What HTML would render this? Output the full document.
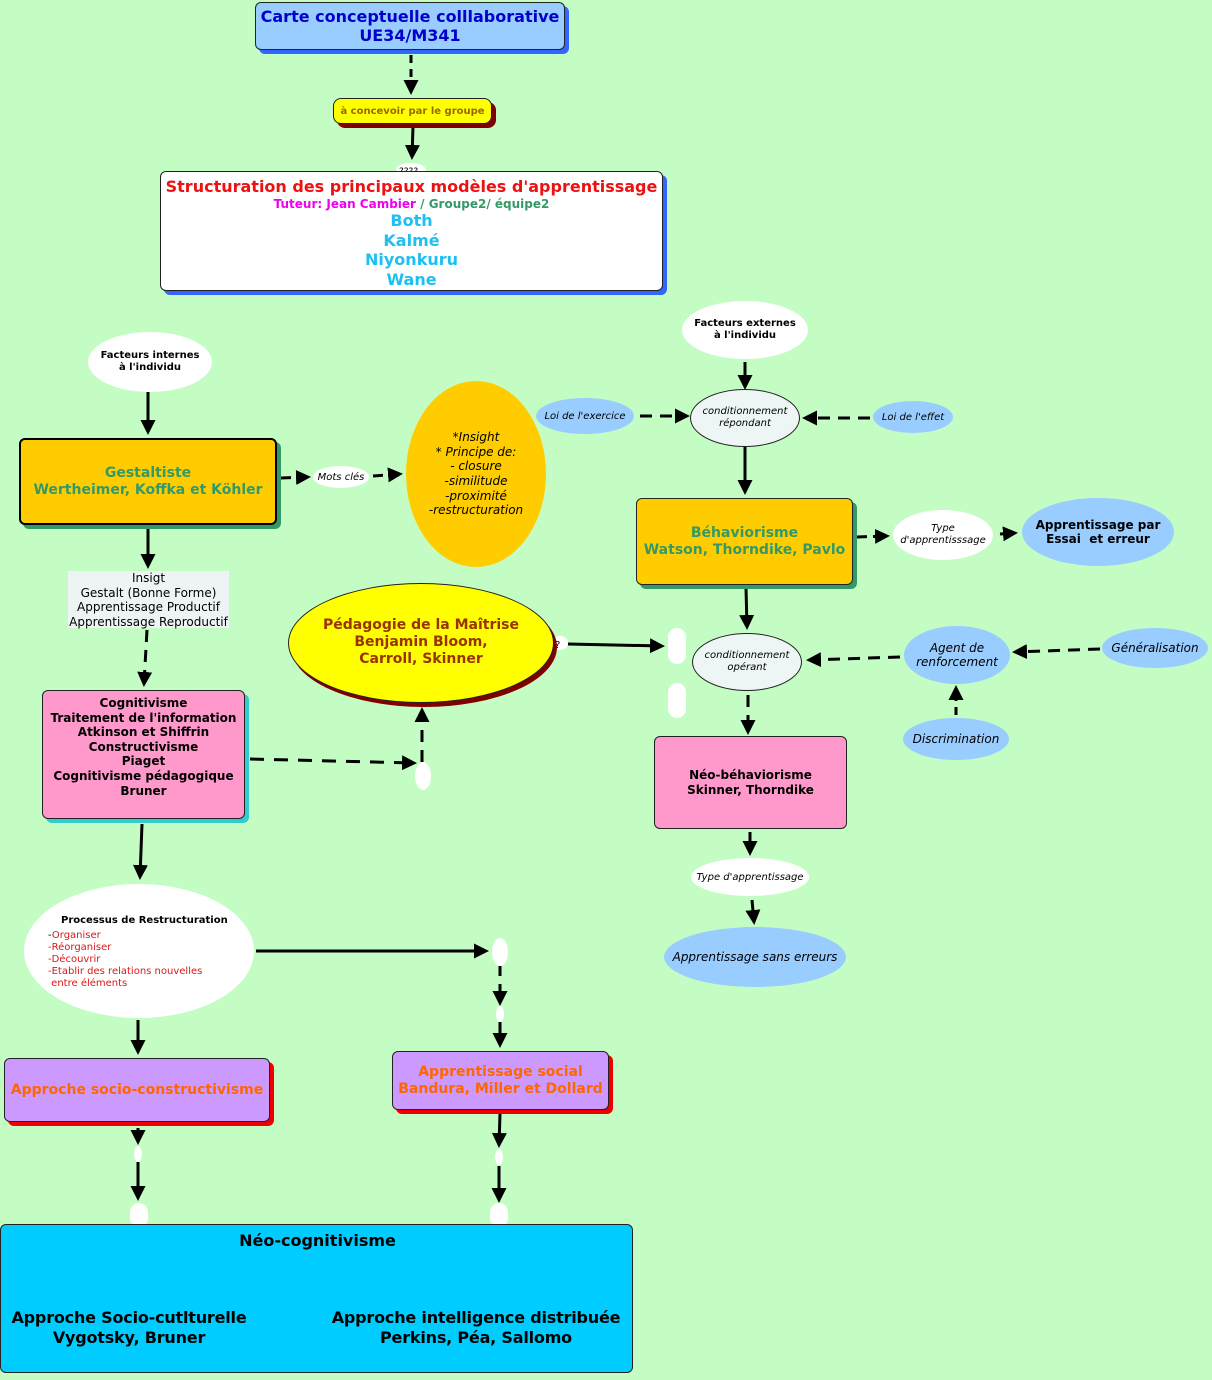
<!DOCTYPE html>
<html><head><meta charset="utf-8"><style>
body{margin:0;width:1212px;height:1380px;background:#c4fdc4;position:relative;overflow:hidden;font-family:"DejaVu Sans","Liberation Sans",sans-serif}
.b{position:absolute;box-sizing:border-box;border:1px solid #222;border-radius:6px;display:flex;flex-direction:column;align-items:center;justify-content:center;text-align:center;font-weight:bold}
.e{position:absolute;box-sizing:border-box;border-radius:50%;display:flex;flex-direction:column;align-items:center;justify-content:center;text-align:center}
svg{position:absolute;left:0;top:0}
</style></head><body>
<svg width="1212" height="1380">
<defs><marker id="a" markerWidth="5" markerHeight="5" refX="4" refY="2.5" orient="auto" markerUnits="strokeWidth"><path d="M0,0L5,2.5L0,5z" fill="#000"/></marker></defs>
<g stroke="#000" stroke-width="3" fill="none" marker-end="url(#a)">
<line x1="411" y1="55" x2="411" y2="92" stroke-dasharray="8,6"/>
<line x1="413" y1="127" x2="412" y2="157"/>
<line x1="148" y1="392" x2="148" y2="432"/>
<line x1="281" y1="478" x2="308" y2="477" stroke-dasharray="10,6"/>
<line x1="373" y1="476" x2="400" y2="474" stroke-dasharray="10,6"/>
<line x1="148" y1="527" x2="148" y2="566"/>
<line x1="147" y1="630" x2="144" y2="684" stroke-dasharray="12,8"/>
<line x1="745" y1="362" x2="745" y2="387"/>
<line x1="640" y1="416" x2="687" y2="416" stroke-dasharray="12,8"/>
<line x1="870" y1="418" x2="805" y2="418" stroke-dasharray="12,8"/>
<line x1="745" y1="447" x2="745" y2="492"/>
<line x1="857" y1="537" x2="887" y2="536" stroke-dasharray="10,6"/>
<line x1="1000" y1="534" x2="1015" y2="533"/>
<line x1="746" y1="588" x2="747" y2="627"/>
<line x1="568" y1="644" x2="662" y2="646"/>
<line x1="900" y1="657" x2="809" y2="660" stroke-dasharray="12,8"/>
<line x1="1100" y1="649" x2="1015" y2="652" stroke-dasharray="12,8"/>
<line x1="956" y1="715" x2="956" y2="688" stroke-dasharray="8,6"/>
<line x1="748" y1="695" x2="748" y2="732" stroke-dasharray="12,8"/>
<line x1="250" y1="759" x2="414" y2="763" stroke-dasharray="14,10"/>
<line x1="422" y1="762" x2="422" y2="710" stroke-dasharray="12,8"/>
<line x1="750" y1="832" x2="750" y2="853"/>
<line x1="752" y1="900" x2="754" y2="922"/>
<line x1="142" y1="824" x2="140" y2="877"/>
<line x1="256" y1="951" x2="486" y2="951"/>
<line x1="500" y1="966" x2="500" y2="1003" stroke-dasharray="10,8"/>
<line x1="500" y1="1022" x2="500" y2="1045"/>
<line x1="138" y1="1020" x2="138" y2="1052"/>
<line x1="138" y1="1128" x2="138" y2="1142"/>
<line x1="138" y1="1162" x2="138" y2="1198"/>
<line x1="500" y1="1114" x2="499" y2="1145"/>
<line x1="499" y1="1166" x2="499" y2="1200"/>
</g>
<g fill="#fff">
<ellipse cx="411" cy="170" rx="15" ry="7"/>
<rect x="668" y="628" width="18" height="36" rx="9"/>
<rect x="668" y="683" width="18" height="35" rx="9"/>
<ellipse cx="423" cy="776" rx="8" ry="14"/>
<ellipse cx="500" cy="952" rx="8" ry="14"/>
<ellipse cx="500" cy="1014" rx="4" ry="8"/>
<ellipse cx="138" cy="1154" rx="4" ry="8"/>
<ellipse cx="499" cy="1157" rx="4" ry="8"/>
<rect x="130" y="1203" width="18" height="24" rx="9"/>
<rect x="490" y="1203" width="18" height="24" rx="9"/>
<ellipse cx="560" cy="643" rx="8" ry="7"/>
</g>
<text x="399" y="174" font-size="9" font-family="DejaVu Sans">????</text>
<text x="555" y="648" font-size="10" font-family="DejaVu Sans">?</text>
</svg>

<div class="b" style="left:255px;top:2px;width:310px;height:48px;background:#99ccff;box-shadow:4px 4px 0 #3366ff;color:#0000cc;font-size:16px;line-height:19px">Carte conceptuelle colllaborative<br>UE34/M341</div>
<div class="b" style="left:333px;top:98px;width:159px;height:26px;background:#ffff00;box-shadow:4px 4px 0 #800000;color:#996600;font-size:10px;border-radius:8px">à concevoir par le groupe</div>
<div class="b" style="left:160px;top:171px;width:503px;height:120px;background:#fff;box-shadow:4px 4px 0 #3366ff;justify-content:flex-start;padding-top:5px">
<div style="color:#ee1111;font-size:16px;line-height:20px">Structuration des principaux modèles d'apprentissage</div>
<div style="font-size:12px;line-height:14px"><span style="color:#ee00ee">Tuteur: Jean Cambier</span><span style="color:#339966"> / Groupe2/ équipe2</span></div>
<div style="color:#1ec0f0;font-size:16px;line-height:19.5px">Both<br>Kalmé<br>Niyonkuru<br>Wane</div></div>

<div class="e" style="left:88px;top:332px;width:124px;height:60px;background:#fff;font-size:10px;font-weight:bold;line-height:12px">Facteurs internes<br>à l'individu</div>
<div class="b" style="left:19px;top:438px;width:258px;height:87px;background:#ffcc00;border:2px solid #000;box-shadow:4px 4px 0 #339966;color:#339966;font-size:14px;line-height:17px">Gestaltiste<br>Wertheimer, Koffka et Köhler</div>
<div class="e" style="left:313px;top:466px;width:56px;height:22px;background:#fff;font-size:10px;font-style:italic">Mots clés</div>
<div class="e" style="left:406px;top:381px;width:140px;height:186px;background:#ffcc00;font-size:12px;font-style:italic;line-height:14.6px">*Insight<br>* Principe de:<br>- closure<br>-similitude<br>-proximité<br>-restructuration</div>

<div class="e" style="left:682px;top:301px;width:126px;height:58px;background:#fff;font-size:10px;font-weight:bold;line-height:12px">Facteurs externes<br>à l'individu</div>
<div class="e" style="left:690px;top:389px;width:110px;height:58px;background:#eef5f5;border:1px solid #222;font-size:10px;font-style:italic;line-height:12px">conditionnement<br>répondant</div>
<div class="e" style="left:536px;top:398px;width:98px;height:36px;background:#99ccff;font-size:10px;font-style:italic">Loi de l'exercice</div>
<div class="e" style="left:873px;top:401px;width:80px;height:32px;background:#99ccff;font-size:10px;font-style:italic">Loi de l'effet</div>
<div class="b" style="left:636px;top:498px;width:217px;height:87px;background:#ffcc00;box-shadow:4px 4px 0 #339966;color:#339966;font-size:14px;line-height:17px">Béhaviorisme<br>Watson, Thorndike, Pavlo</div>
<div class="e" style="left:893px;top:510px;width:100px;height:50px;background:#fff;font-size:10px;font-style:italic;line-height:12px">Type<br>d'apprentisssage</div>
<div class="e" style="left:1022px;top:498px;width:152px;height:68px;background:#99ccff;font-size:12px;font-weight:bold;line-height:14px">Apprentissage par<br>Essai&nbsp; et erreur</div>

<div style="position:absolute;left:68px;top:571px;width:161px;height:57px;background:#eef4f4;text-align:center;font-size:12px;line-height:14.5px">Insigt<br>Gestalt (Bonne Forme)<br>Apprentissage Productif<br>Apprentissage Reproductif</div>
<div class="e" style="left:288px;top:583px;width:266px;height:120px;background:#ffff00;border:1px solid #222;box-shadow:3px 4px 0 #800000;color:#993300;font-size:14px;font-weight:bold;line-height:17px;justify-content:flex-start;padding-top:33px">Pédagogie de la Maîtrise<br>Benjamin Bloom,<br>Carroll, Skinner</div>
<div class="e" style="left:692px;top:633px;width:110px;height:58px;background:#eef5f5;border:1px solid #222;font-size:10px;font-style:italic;line-height:12px">conditionnement<br>opérant</div>
<div class="e" style="left:904px;top:626px;width:106px;height:58px;background:#99ccff;font-size:12px;font-style:italic;line-height:14px">Agent de<br>renforcement</div>
<div class="e" style="left:1102px;top:628px;width:106px;height:40px;background:#99ccff;font-size:12px;font-style:italic">Généralisation</div>
<div class="e" style="left:903px;top:718px;width:106px;height:42px;background:#99ccff;font-size:12px;font-style:italic">Discrimination</div>

<div class="b" style="left:42px;top:690px;width:203px;height:129px;background:#ff99cc;box-shadow:4px 4px 0 #33cccc;font-size:12px;line-height:14.6px;justify-content:flex-start;padding-top:5px">Cognitivisme<br>Traitement de l'information<br>Atkinson et Shiffrin<br>Constructivisme<br>Piaget<br>Cognitivisme pédagogique<br>Bruner</div>
<div class="b" style="left:654px;top:736px;width:193px;height:93px;background:#ff99cc;font-size:12px;line-height:15px">Néo-béhaviorisme<br>Skinner, Thorndike</div>
<div class="e" style="left:691px;top:858px;width:118px;height:38px;background:#fff;font-size:10px;font-style:italic">Type d'apprentissage</div>
<div class="e" style="left:664px;top:927px;width:182px;height:60px;background:#99ccff;font-size:12px;font-style:italic">Apprentissage sans erreurs</div>

<div style="position:absolute;left:24px;top:884px;width:230px;height:134px;background:#fff;border-radius:50%"></div>
<div style="position:absolute;left:61px;top:915px;font-size:10px;font-weight:bold;line-height:12px">Processus de Restructuration</div>
<div style="position:absolute;left:48px;top:930px;font-size:10px;line-height:12px;color:#d81818;text-align:left"><span style="color:#000">-</span>Organiser<br>-Réorganiser<br>-Découvrir<br>-Etablir des relations nouvelles<br>&nbsp;entre éléments</div>

<div class="b" style="left:4px;top:1058px;width:266px;height:64px;background:#cc99ff;box-shadow:4px 4px 0 #ee0000;color:#ff6600;font-size:14px">Approche socio-constructivisme</div>
<div class="b" style="left:392px;top:1051px;width:217px;height:59px;background:#cc99ff;box-shadow:4px 4px 0 #ee0000;color:#ff6600;font-size:14px;line-height:17px">Apprentissage social<br>Bandura, Miller et Dollard</div>

<div class="b" style="left:0;top:1224px;width:633px;height:149px;background:#00ccff;font-size:16px;justify-content:flex-start;display:block">
<div style="position:absolute;left:0;width:633px;top:6px;text-align:center">Néo-cognitivisme</div>
<div style="position:absolute;left:8px;top:83px;width:240px;text-align:center;line-height:20px;letter-spacing:-0.2px">Approche Socio-cutlturelle<br>Vygotsky, Bruner</div>
<div style="position:absolute;left:329px;top:83px;width:292px;text-align:center;line-height:20px;letter-spacing:-0.2px">Approche intelligence distribuée<br>Perkins, Péa, Sallomo</div>
</div>
</body></html>
